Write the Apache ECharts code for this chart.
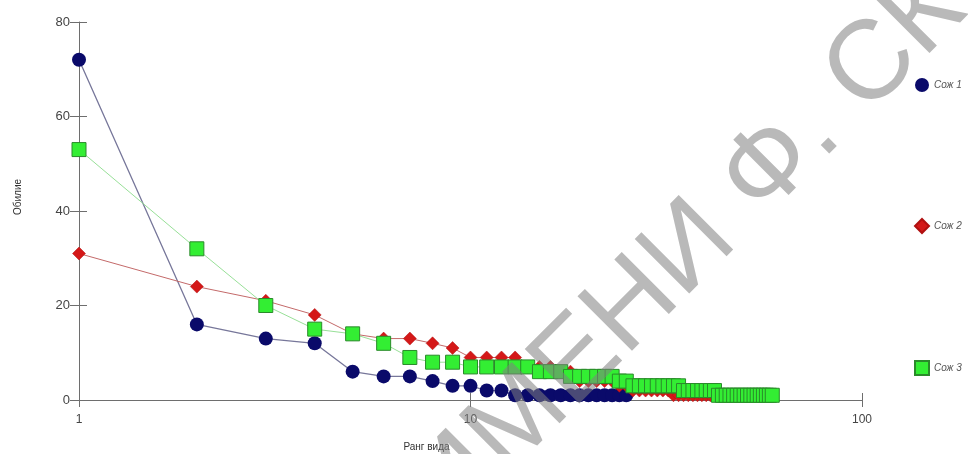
<!DOCTYPE html>
<html>
<head>
<meta charset="utf-8">
<script src="https://cdn.jsdelivr.net/npm/echarts@6/dist/echarts.min.js"></script>
<style>html,body{margin:0;padding:0;background:#fff;}#c{width:968px;height:454px;}</style>
</head>
<body>
<div id="c"></div>
<script>
// Rank-abundance data (rank = position in array, starting at 1)
const seriesNames = ['Сож 1', 'Сож 2', 'Сож 3'];
const soz1 = [72,16,13,12,6,5,5,4,3,3,2,2,1,1,1,1,1,1,1,1,1,1,1,1,1];
const soz2 = [31,24,21,18,14,13,13,12,11,9,9,9,9,7,7,7,6,6,4,4,4,4,4,3,3,2,2,2,2,2,2,2,1,1,1,1,1,1,1,1,1,1];
const soz3 = [53,32,20,15,14,12,9,8,8,7,7,7,7,7,6,6,6,5,5,5,5,5,5,4,4,3,3,3,3,3,3,3,3,3,2,2,2,2,2,2,2,2,1,1,1,1,1,1,1,1,1,1,1,1,1,1,1,1,1];
const xTickLabels = ['1', '10', '100'];
const yTickLabels = ['0', '20', '40', '60', '80'];
const xTitle = 'Ранг вида';
const yTitle = 'Обилие';
const watermark = 'ИМЕНИ Ф. СКОРИНЫ';

const toPairs = arr => arr.map((v, i) => [i + 1, v]);
const FONT = '"Liberation Sans", Arial, sans-serif';

const chart = echarts.init(document.getElementById('c'), null, {renderer: 'canvas'});
const axisGray = '#6e6e6e';

chart.setOption({
  animation: false,
  backgroundColor: '#ffffff',
  textStyle: {fontFamily: FONT},
  grid: {left: 79, right: 106, top: 22, bottom: 54, containLabel: false, outerBoundsMode: 'none'},
  legend: {
    orient: 'vertical',
    left: 909,
    top: 73,
    itemGap: 126,
    itemWidth: 14,
    itemHeight: 14,
    textStyle: {fontSize: 10, fontStyle: 'italic', color: '#555', fontFamily: FONT},
    data: [
      {name: seriesNames[0], icon: 'circle'},
      {name: seriesNames[1], icon: 'diamond'},
      {name: seriesNames[2], icon: 'rect'}
    ]
  },
  xAxis: [{
    type: 'log',
    logBase: 10,
    min: 1,
    max: 100,
    name: xTitle,
    nameLocation: 'middle',
    nameGap: 42,
    nameTextStyle: {fontSize: 10, color: '#333', padding: [0, 88, 0, 0]},
    axisLine: {lineStyle: {color: axisGray, width: 1}},
    axisTick: {show: true, length: 7, lineStyle: {color: axisGray}},
    minorTick: {show: false},
    splitLine: {show: false},
    axisLabel: {
      color: '#444', fontSize: 12, margin: 14,
      formatter: v => {
        const s = String(Math.round(v));
        return xTickLabels.includes(s) ? s : '';
      }
    }
  }, {
    type: 'log',
    logBase: 10,
    min: 1,
    max: 100,
    position: 'bottom',
    axisLine: {show: false},
    axisTick: {show: true, inside: true, length: 7, lineStyle: {color: axisGray}},
    axisLabel: {show: false},
    splitLine: {show: false}
  }],
  yAxis: [{
    type: 'value',
    min: 0,
    max: 80,
    interval: 20,
    position: 'left',
    name: yTitle,
    nameLocation: 'middle',
    nameGap: 56,
    nameTextStyle: {fontSize: 10, color: '#333', padding: [0, 0, 0, 28]},
    axisLine: {show: true, lineStyle: {color: axisGray, width: 1}},
    axisTick: {show: true, length: 9, lineStyle: {color: axisGray}},
    splitLine: {show: false},
    axisLabel: {
      color: '#444', fontSize: 13, margin: 9,
      formatter: v => yTickLabels.includes(String(v)) ? String(v) : ''
    }
  }, {
    type: 'value',
    min: 0,
    max: 80,
    interval: 20,
    position: 'left',
    axisLine: {show: false},
    axisTick: {show: true, inside: true, length: 8, lineStyle: {color: axisGray}},
    axisLabel: {show: false},
    splitLine: {show: false}
  }],
  series: [
    {
      name: seriesNames[0],
      type: 'line',
      data: toPairs(soz1),
      symbol: 'circle',
      symbolSize: 14,
      itemStyle: {color: '#0a0a6a', borderColor: '#0a0a6a', borderWidth: 0},
      lineStyle: {color: '#77779a', width: 1.3},
      z: 2
    },
    {
      name: seriesNames[1],
      type: 'line',
      data: toPairs(soz2),
      symbol: 'diamond',
      symbolSize: 13,
      itemStyle: {color: '#d41818', borderColor: '#b01010', borderWidth: 0.5},
      lineStyle: {color: '#c46a6a', width: 1},
      z: 3
    },
    {
      name: seriesNames[2],
      type: 'line',
      data: toPairs(soz3),
      symbol: 'rect',
      symbolSize: 14,
      itemStyle: {color: '#33ee33', borderColor: '#2a8a2a', borderWidth: 1},
      lineStyle: {color: '#98e098', width: 1},
      z: 4
    }
  ],
  graphic: [{
    type: 'text',
    x: 428,
    y: 511,
    rotation: Math.PI / 4,
    silent: true,
    z: 100,
    style: {
      text: watermark,
      font: '112px "Liberation Sans", Arial, sans-serif',
      fill: 'rgba(128,128,128,0.55)',
      align: 'left',
      verticalAlign: 'middle'
    }
  }]
});
</script>
</body>
</html>
